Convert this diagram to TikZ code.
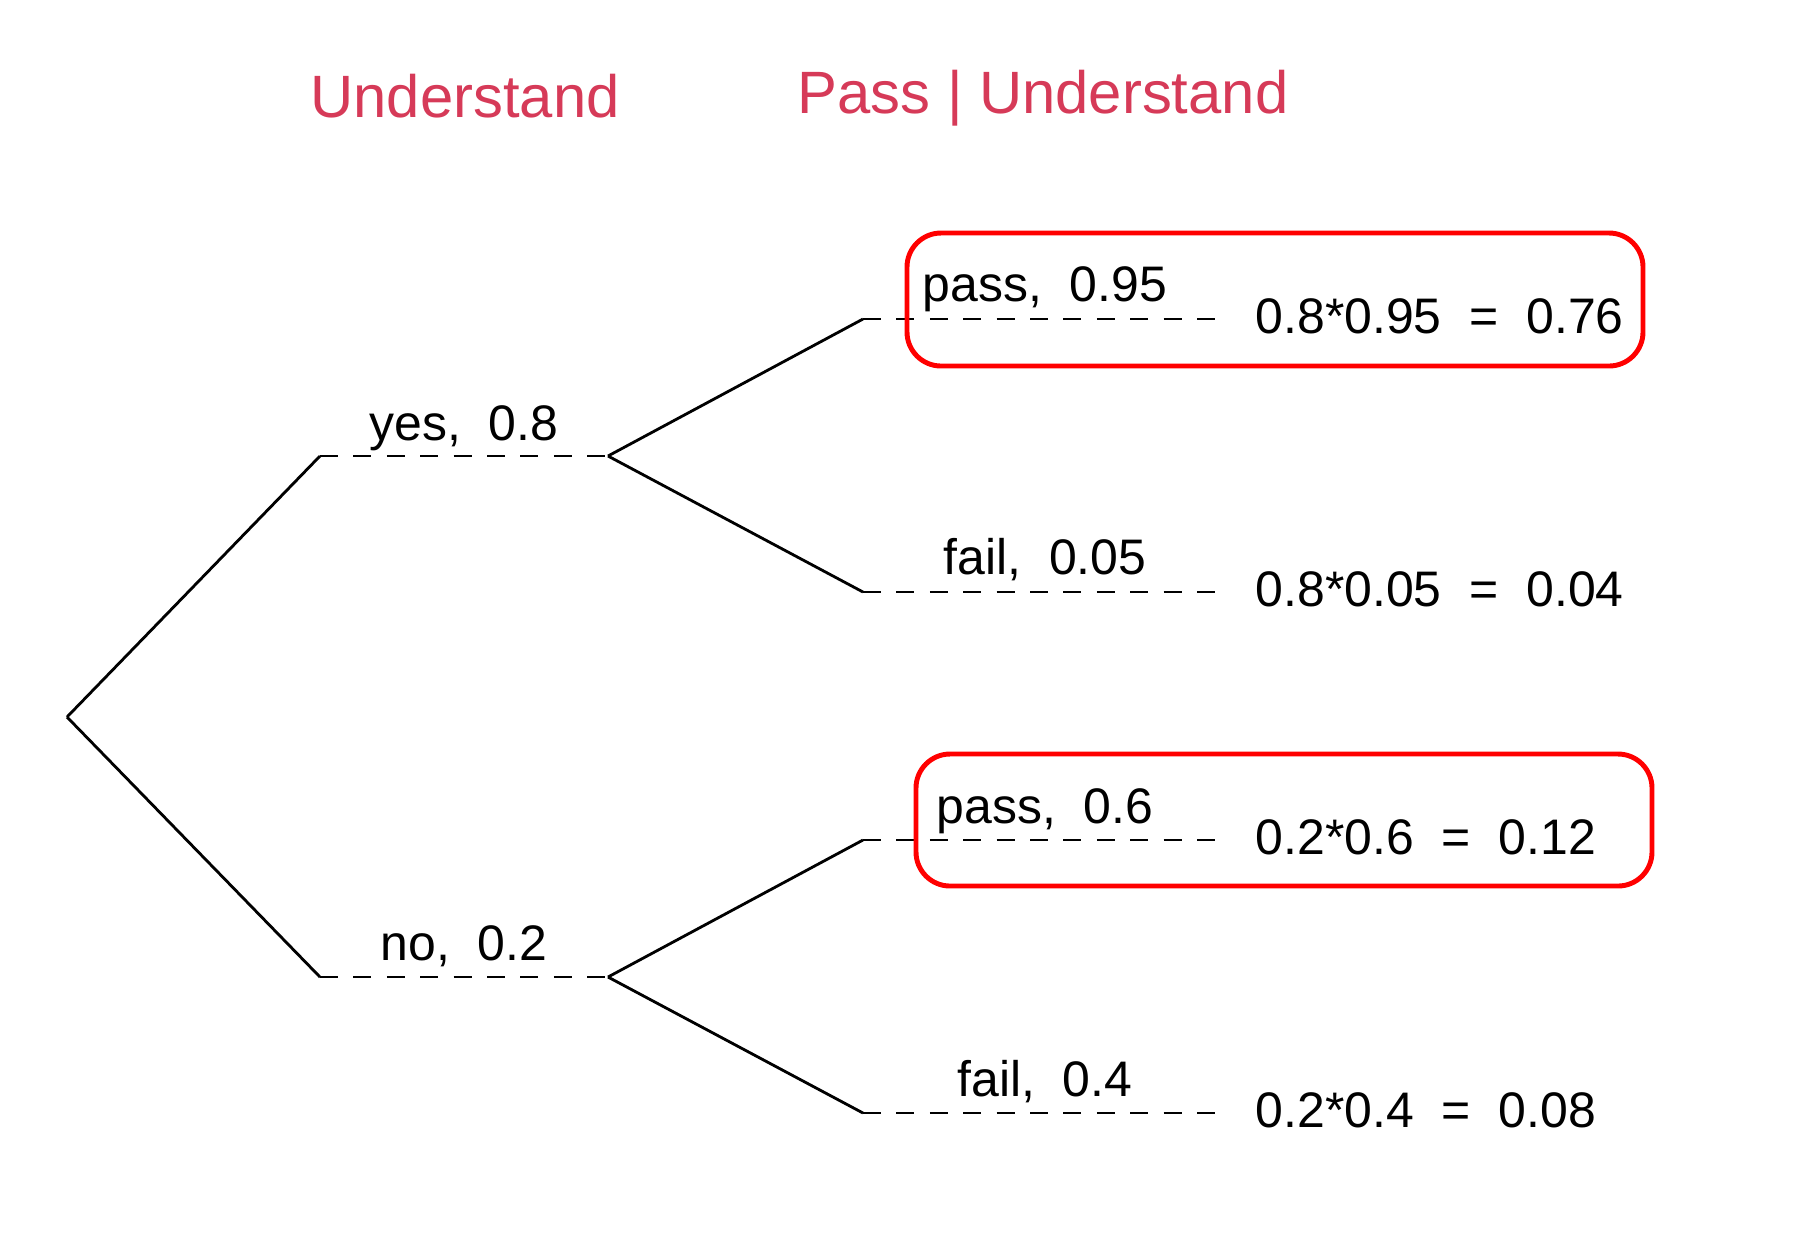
\documentclass[tikz,border=0pt]{standalone}
\usepackage{fontspec}
\setmainfont{Liberation Sans}
\usetikzlibrary{positioning,calc}
\definecolor{hdrred}{RGB}{214,58,88}
\newcommand{\lblsize}{14.2}
\newcommand{\hdsize}{17}
\newcommand{\mtext}[4]{
  \node [anchor=#4,inner sep=0pt] at #1 (#3) {\fontsize{\lblsize}{0}\selectfont #2};
}
\newcommand{\mbranch}[3]{
  \draw [tree] #1 -- #2;
  \draw [tree,dashed branch] #2 -- #3;
}

\begin{document}
\begin{tikzpicture}[x=0.01cm,y=-0.01cm,
  tree/.style={line width=0.8pt,line join=miter},
  dashed branch/.style={dash pattern=on 5.1pt off 4.4pt},
  redbox/.style={draw=red,line width=1.4pt,rounded corners=0.34cm}]
  \useasboundingbox (0,0) rectangle (1800,1259);

  % headings
  \node [anchor=base,inner sep=0pt,text=hdrred] at (465,117) (hunder) {\fontsize{\hdsize}{0}\selectfont Understand};
  \node [anchor=base,inner sep=0pt,text=hdrred] at (1043,113) (hpass) {\fontsize{\hdsize}{0}\selectfont Pass | Understand};

  % tree points
  \coordinate (root) at (67,717);
  \coordinate (y) at (320,456);
  \coordinate (ye) at (608,456);
  \coordinate (n) at (320,977);
  \coordinate (ne) at (608,977);
  \coordinate (yp) at (863,319);
  \coordinate (ype) at (1215,319);
  \coordinate (yf) at (863,592);
  \coordinate (yfe) at (1215,592);
  \coordinate (np) at (863,840);
  \coordinate (npe) at (1215,840);
  \coordinate (nf) at (863,1113);
  \coordinate (nfe) at (1215,1113);

  \mbranch{(root)}{(y)}{(ye)}
  \mbranch{(root)}{(n)}{(ne)}
  \mbranch{(ye)}{(yp)}{(ype)}
  \mbranch{(ye)}{(yf)}{(yfe)}
  \mbranch{(ne)}{(np)}{(npe)}
  \mbranch{(ne)}{(nf)}{(nfe)}

  % branch labels
  \mtext{(464,440)}{yes,\ \ 0.8}{lyes}{base}
  \mtext{(464,960)}{no,\ \ 0.2}{lno}{base}
  \mtext{(1045,301)}{pass,\ \ 0.95}{lyp}{base}
  \mtext{(1045,574)}{fail,\ \ 0.05}{lyf}{base}
  \mtext{(1045,823)}{pass,\ \ 0.6}{lnp}{base}
  \mtext{(1045,1096)}{fail,\ \ 0.4}{lnf}{base}

  % joint probabilities
  \mtext{(1255,333)}{0.8*0.95\ \ =\ \ 0.76}{ryp}{base west}
  \mtext{(1255,606)}{0.8*0.05\ \ =\ \ 0.04}{ryf}{base west}
  \mtext{(1255,854)}{0.2*0.6\ \ =\ \ 0.12}{rnp}{base west}
  \mtext{(1255,1127)}{0.2*0.4\ \ =\ \ 0.08}{rnf}{base west}

  % highlight boxes
  \draw [redbox] (907,233) rectangle (1643,366);
  \draw [redbox] (916,754) rectangle (1652,886);
\end{tikzpicture}
\end{document}
